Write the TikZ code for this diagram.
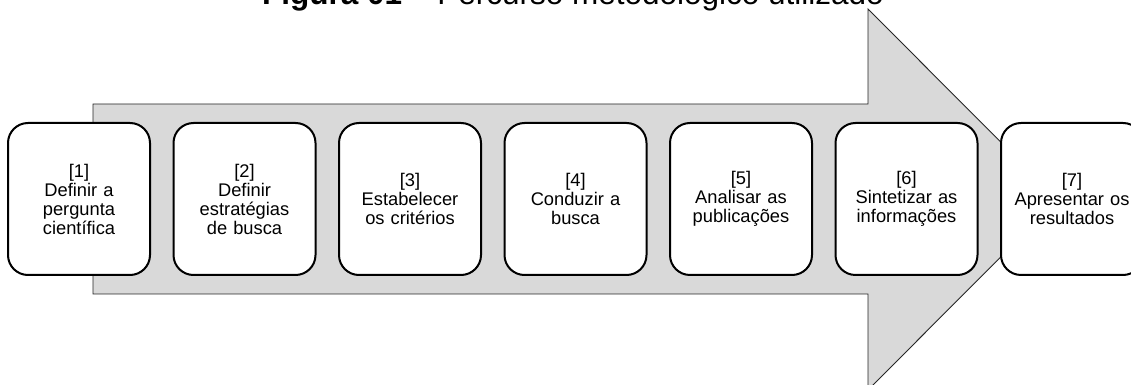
\documentclass[tikz,border=0pt]{standalone}
\usepackage{fontspec}
\setmainfont{Liberation Sans}
\definecolor{arrowgray}{HTML}{D9D9D9}
\begin{document}
\begin{tikzpicture}[x=1pt,y=1pt,
  stepbox/.style={draw=black, line width=2pt, fill=white, rounded corners=20pt,
    minimum width=142pt, minimum height=152pt, inner sep=0pt,
    align=center, font=\fontsize{18.3}{19}\selectfont, text width=140pt},
  bigarrow/.style={draw=black!85, line width=0.9pt, fill=arrowgray}]
\useasboundingbox (0,0) rectangle (1131,385);
\clip (0,0) rectangle (1131,385);
\node[anchor=base, font=\fontsize{31.5}{34}\selectfont] (title) at (573,380.5)
  {\textbf{Figura 01} – Percurso metodológico utilizado};
\draw[bigarrow] (93,281) -- (868,281) -- (868,376) -- (1058,185.5) -- (868,-5)
  -- (868,91) -- (93,91) -- cycle;
\node[stepbox] (s1) at (79,186) {[1]\\Definir a\\pergunta\\científica};
\node[stepbox] (s2) at (244.5,186) {[2]\\Definir\\estratégias\\de busca};
\node[stepbox] (s3) at (410,186) {[3]\\Estabelecer\\os critérios};
\node[stepbox] (s4) at (575.5,186) {[4]\\Conduzir a\\busca};
\node[stepbox] (s5) at (741,186) {[5]\\Analisar as\\publicações};
\node[stepbox] (s6) at (906.5,186) {[6]\\Sintetizar as\\informações};
\node[stepbox] (s7) at (1072,186) {[7]\\Apresentar os\\resultados};
\end{tikzpicture}
\end{document}
